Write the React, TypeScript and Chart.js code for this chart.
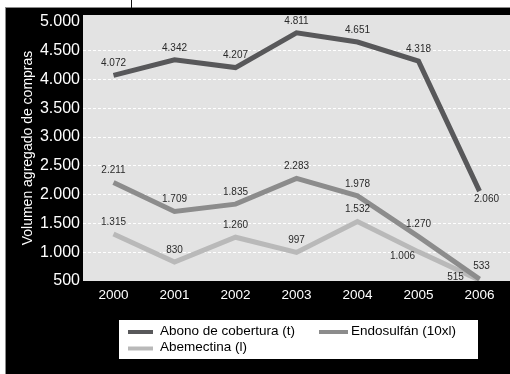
import React, { useEffect, useRef } from 'react';
import { Chart, registerables } from 'chart.js';

Chart.register(...registerables);

const years = ['2000', '2001', '2002', '2003', '2004', '2005', '2006'];
const abono = [4072, 4342, 4207, 4811, 4651, 4318, 2060];
const endosulfan = [2211, 1709, 1835, 2283, 1978, 1270, 533];
const abemectina = [1315, 830, 1260, 997, 1532, 1006, 515];
const seriesNames = ['Abono de cobertura (t)', 'Endosulfán (10xl)', 'Abemectina (l)'];
const yTickValues = [500, 1000, 1500, 2000, 2500, 3000, 3500, 4000, 4500, 5000];
const yTitle = 'Volumen agregado de compras';

const FONT = "'Liberation Sans', Arial, Helvetica, sans-serif";

function fmt(v: number): string {
  if (v >= 1000) {
    return Math.floor(v / 1000) + '.' + String(v % 1000).padStart(3, '0');
  }
  return String(v);
}

const backgroundPlugin = {
  id: 'bgPlugin',
  beforeDraw(chart: any) {
    const { ctx, width, height, chartArea } = chart;
    ctx.save();
    ctx.fillStyle = '#ffffff';
    ctx.fillRect(0, 0, width, height);
    ctx.fillStyle = '#000000';
    ctx.fillRect(5, 8, width - 5, height - 8);
    ctx.strokeStyle = '#8a8a8a';
    ctx.lineWidth = 1;
    ctx.beginPath();
    ctx.moveTo(5, 7.5);
    ctx.lineTo(width, 7.5);
    ctx.moveTo(5.5, 7.5);
    ctx.lineTo(5.5, height);
    ctx.stroke();
    ctx.strokeStyle = '#111111';
    ctx.beginPath();
    ctx.moveTo(131.5, 0);
    ctx.lineTo(131.5, 8);
    ctx.stroke();
    ctx.fillStyle = '#e3e3e3';
    ctx.fillRect(chartArea.left, chartArea.top, width - chartArea.left, chartArea.bottom - chartArea.top);
    ctx.restore();
  },
};

const labelOffsets: Record<string, [number, number]> = {
  '0-6': [7, 8],
  '1-6': [2, -13],
  '2-5': [-16, 4],
  '2-6': [-24, -3],
};

const valueLabelPlugin = {
  id: 'valueLabels',
  afterDatasetsDraw(chart: any) {
    const { ctx } = chart;
    ctx.save();
    ctx.font = `10px 'Liberation Sans Narrow', ${FONT}`;
    ctx.fillStyle = '#2a2a2a';
    ctx.textAlign = 'center';
    ctx.textBaseline = 'middle';
    chart.data.datasets.forEach((ds: any, di: number) => {
      const meta = chart.getDatasetMeta(di);
      meta.data.forEach((pt: any, i: number) => {
        const off = labelOffsets[`${di}-${i}`] || [0, -12];
        ctx.fillText(fmt(ds.data[i]), pt.x + off[0], pt.y + off[1]);
      });
    });
    ctx.restore();
  },
};

const legendItems = [
  { sx: 128, ex: 153, y: 332, tx: 160 },
  { sx: 319, ex: 348, y: 332, tx: 351 },
  { sx: 128, ex: 153, y: 348.5, tx: 160 },
];

const legendPlugin = {
  id: 'customLegend',
  afterDraw(chart: any) {
    const { ctx } = chart;
    ctx.save();
    ctx.fillStyle = '#ffffff';
    ctx.fillRect(119, 320, 359, 39);
    ctx.font = `13.5px ${FONT}`;
    ctx.textBaseline = 'middle';
    ctx.textAlign = 'left';
    chart.data.datasets.forEach((ds: any, di: number) => {
      const it = legendItems[di];
      ctx.strokeStyle = ds.borderColor;
      ctx.lineWidth = 4;
      ctx.beginPath();
      ctx.moveTo(it.sx, it.y);
      ctx.lineTo(it.ex, it.y);
      ctx.stroke();
      ctx.fillStyle = '#000000';
      ctx.fillText(ds.label, it.tx, it.y - 1);
    });
    ctx.restore();
  },
};

export default function App() {
  const ref = useRef<HTMLCanvasElement | null>(null);

  useEffect(() => {
    document.body.style.margin = '0';
    const canvas = ref.current;
    if (!canvas) return;
    const chart = new Chart(canvas, {
      type: 'line',
      data: {
        labels: years,
        datasets: [
          { label: seriesNames[0], data: abono, borderColor: '#58585a', backgroundColor: '#58585a' },
          { label: seriesNames[1], data: endosulfan, borderColor: '#8c8c8c', backgroundColor: '#8c8c8c' },
          { label: seriesNames[2], data: abemectina, borderColor: '#b9b9b9', backgroundColor: '#b9b9b9' },
        ],
      },
      options: {
        responsive: false,
        animation: false,
        devicePixelRatio: 1,
        layout: { padding: { top: 15, left: 0, right: -3, bottom: 0 } },
        elements: {
          line: { borderWidth: 5, tension: 0, fill: false },
          point: { radius: 0, hoverRadius: 0 },
        },
        plugins: {
          legend: { display: false },
          tooltip: { enabled: false },
        },
        scales: {
          x: {
            type: 'category',
            offset: true,
            grid: { display: false, drawTicks: false },
            border: { display: false },
            ticks: { color: '#ffffff', font: { family: FONT, size: 13.5 }, padding: 6, maxRotation: 0 },
            afterFit: (s: any) => { s.height = 93; },
          },
          y: {
            type: 'linear',
            min: 500,
            max: 5120,
            afterBuildTicks: (s: any) => {
              s.ticks = yTickValues.map((v) => ({ value: v }));
            },
            grid: {
              drawTicks: false,
              lineWidth: 1,
              color: (c: any) => {
                const v = c.tick ? c.tick.value : 0;
                return v > 500 && v < 5000 ? '#ffffff' : 'rgba(0,0,0,0)';
              },
            },
            border: { display: false, dash: [3, 2] },
            ticks: {
              color: '#ffffff',
              font: { family: FONT, size: 16 },
              padding: 3,
              callback: (v: any) => fmt(Number(v)),
            },
            title: {
              display: true,
              text: yTitle,
              color: '#ffffff',
              font: { family: FONT, size: 14 },
              padding: { top: 20, bottom: 0 },
            },
            afterFit: (s: any) => { s.width = 83; },
          },
        },
      },
      plugins: [backgroundPlugin, valueLabelPlugin, legendPlugin],
    } as any);
    return () => chart.destroy();
  }, []);

  return (
    <div style={{ width: 510, height: 374 }}>
      <canvas ref={ref} width={510} height={374} style={{ display: 'block', width: 510, height: 374 }} />
    </div>
  );
}
